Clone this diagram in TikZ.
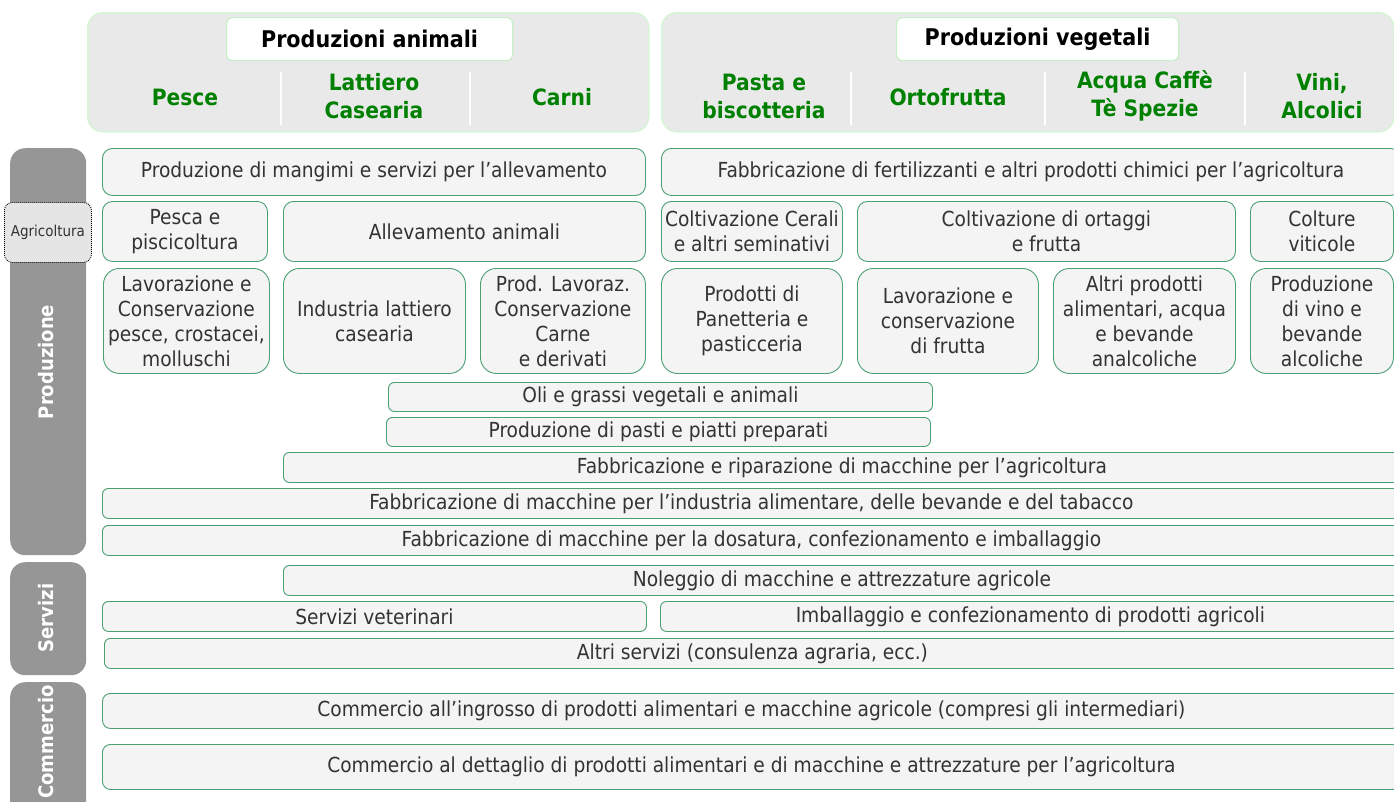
\documentclass[tikz,border=0pt]{standalone}
\usepackage{fontspec}
\setmainfont{DejaVu Sans Condensed}
\definecolor{bordergreen}{RGB}{75,160,115}
\definecolor{cellgray}{RGB}{244,244,244}
\definecolor{textgray}{RGB}{51,51,51}
\definecolor{headgray}{RGB}{233,233,233}
\definecolor{headborder}{RGB}{214,244,214}
\definecolor{titleborder}{RGB}{200,240,200}
\definecolor{headgreen}{RGB}{0,128,0}
\definecolor{sidegray}{RGB}{150,150,150}
\definecolor{agrigray}{RGB}{229,229,229}
\begin{document}
\begin{tikzpicture}[x=1pt,y=-1pt,
  cell/.style={draw=bordergreen, fill=cellgray, line width=0.9pt, text=textgray,
    font=\fontsize{20.7}{25}\selectfont, align=center, inner sep=0pt, anchor=north west,
    rounded corners=10pt},
  tallcell/.style={cell, rounded corners=16pt},
  thincell/.style={cell, rounded corners=6pt},
  panel/.style={fill=headgray, draw=headborder, line width=1.5pt, rounded corners=15pt,
    anchor=north west, inner sep=0pt},
  titlebox/.style={fill=white, draw=titleborder, line width=1.2pt, rounded corners=6pt,
    anchor=north west, inner sep=0pt, font=\fontsize{23}{28}\selectfont\bfseries, text=black},
  headlabel/.style={font=\fontsize{22.5}{28}\selectfont\bfseries, text=headgreen, align=center},
  sidebar/.style={fill=sidegray, rounded corners=15pt, anchor=north west, inner sep=0pt},
  sidelabel/.style={rotate=90, text=white, font=\fontsize{20}{24}\selectfont\bfseries},
  sep/.style={white, line width=2pt}
]
\useasboundingbox (0,0) rectangle (1394,801);
\clip (0,0) rectangle (1394,801);

% header panels
\node[panel, minimum width=561pt, minimum height=119pt] (panelA) at (87,12) {};
\node[panel, minimum width=732pt, minimum height=119pt] (panelV) at (661,12) {};
\node[titlebox, minimum width=286pt, minimum height=43pt] (titA) at (226,17) {Produzioni animali};
\node[titlebox, minimum width=282pt, minimum height=43pt] (titV) at (896,17) {Produzioni vegetali};
\draw[sep] (281,72) -- (281,125);
\draw[sep] (470,72) -- (470,125);
\draw[sep] (851,72) -- (851,125);
\draw[sep] (1045,72) -- (1045,125);
\draw[sep] (1245,72) -- (1245,125);
\node[headlabel] (hpesce) at (185,97) {Pesce};
\node[headlabel] (hlatt) at (374,96) {Lattiero\\Casearia};
\node[headlabel] (hcarni) at (562,97) {Carni};
\node[headlabel] (hpasta) at (764,96) {Pasta e\\biscotteria};
\node[headlabel] (horto) at (948,97) {Ortofrutta};
\node[headlabel] (hacqua) at (1145,96) {Acqua Caffè\\Tè Spezie};
\node[headlabel] (hvini) at (1322,96) {Vini,\\Alcolici};

% side bars
\node[sidebar, minimum width=76pt, minimum height=407pt] (sbprod) at (10,148) {};
\node[sidebar, minimum width=76pt, minimum height=113pt] (sbserv) at (10,562) {};
\node[sidebar, minimum width=76pt, minimum height=150pt] (sbcomm) at (10,682) {};
\node[sidelabel] (lprod) at (46,362) {Produzione};
\node[sidelabel] (lserv) at (46,618) {Servizi};
\node[sidelabel] (lcomm) at (46,742) {Commercio};
\node[draw=black, line width=0.8pt, dash pattern=on 1pt off 1pt, fill=agrigray, rounded corners=8pt, anchor=north west,
  inner sep=0pt, minimum width=87pt, minimum height=60pt, text=textgray,
  font=\fontsize{15}{18}\selectfont] (agri) at (4,202) {Agricoltura};

% row 1
\node[cell, minimum width=543pt, minimum height=47pt] (mangimi) at (102,148)
  {Produzione di mangimi e servizi per l’allevamento};
\node[cell, minimum width=739pt, minimum height=47pt] (fert) at (661,148)
  {Fabbricazione di fertilizzanti e altri prodotti chimici per l’agricoltura};

% row 2
\node[cell, minimum width=165pt, minimum height=60pt] (pesca) at (102,201) {Pesca e\\piscicoltura};
\node[cell, minimum width=362pt, minimum height=60pt] (alleva) at (283,201) {Allevamento animali};
\node[cell, minimum width=181pt, minimum height=60pt] (cerali) at (661,201) {Coltivazione Cerali\\e altri seminativi};
\node[cell, minimum width=378pt, minimum height=60pt] (ortaggi) at (857,201) {Coltivazione di ortaggi\\e frutta};
\node[cell, minimum width=143pt, minimum height=60pt] (viticole) at (1250,201) {Colture\\viticole};

% row 3
\node[tallcell, minimum width=166pt, minimum height=105pt] (lavpesce) at (103,268)
  {Lavorazione e\\Conservazione\\pesce, crostacei,\\molluschi};
\node[tallcell, minimum width=182pt, minimum height=105pt] (lattiero) at (283,268)
  {Industria lattiero\\casearia};
\node[tallcell, minimum width=165pt, minimum height=105pt] (carne) at (480,268)
  {Prod. Lavoraz.\\Conservazione\\Carne\\e derivati};
\node[tallcell, minimum width=181pt, minimum height=105pt] (panett) at (661,268)
  {Prodotti di\\Panetteria e\\pasticceria};
\node[tallcell, minimum width=181pt, minimum height=105pt] (lavfrutta) at (857,268)
  {Lavorazione e\\conservazione\\di frutta};
\node[tallcell, minimum width=182pt, minimum height=105pt] (altriprod) at (1053,268)
  {Altri prodotti\\alimentari, acqua\\e bevande\\analcoliche};
\node[tallcell, minimum width=143pt, minimum height=105pt] (vino) at (1250,268)
  {Produzione\\di vino e\\bevande\\alcoliche};

% thin rows
\node[thincell, minimum width=544pt, minimum height=29pt] (oli) at (388,382) {Oli e grassi vegetali e animali};
\node[thincell, minimum width=544pt, minimum height=29pt] (pasti) at (386,417) {Produzione di pasti e piatti preparati};
\node[thincell, minimum width=1117pt, minimum height=30pt] (ripar) at (283,452)
  {Fabbricazione e riparazione di macchine per l’agricoltura};
\node[thincell, minimum width=1298pt, minimum height=30pt] (indus) at (102,488)
  {Fabbricazione di macchine per l’industria alimentare, delle bevande e del tabacco};
\node[thincell, minimum width=1298pt, minimum height=30pt] (dosat) at (102,525)
  {Fabbricazione di macchine per la dosatura, confezionamento e imballaggio};
\node[thincell, minimum width=1117pt, minimum height=30pt] (noleg) at (283,565)
  {Noleggio di macchine e attrezzature agricole};
\node[thincell, minimum width=544pt, minimum height=30pt] (veter) at (102,601) {Servizi veterinari};
\node[thincell, minimum width=740pt, minimum height=30pt] (imball) at (660,601)
  {Imballaggio e confezionamento di prodotti agricoli};
\node[thincell, minimum width=1296pt, minimum height=30pt] (altriserv) at (104,638)
  {Altri servizi (consulenza agraria, ecc.)};
\node[thincell, rounded corners=8pt, minimum width=1298pt, minimum height=35pt] (ingrosso) at (102,693)
  {Commercio all’ingrosso di prodotti alimentari e macchine agricole (compresi gli intermediari)};
\node[thincell, rounded corners=8pt, minimum width=1298pt, minimum height=45pt] (dettaglio) at (102,744)
  {Commercio al dettaglio di prodotti alimentari e di macchine e attrezzature per l’agricoltura};
\end{tikzpicture}
\end{document}
